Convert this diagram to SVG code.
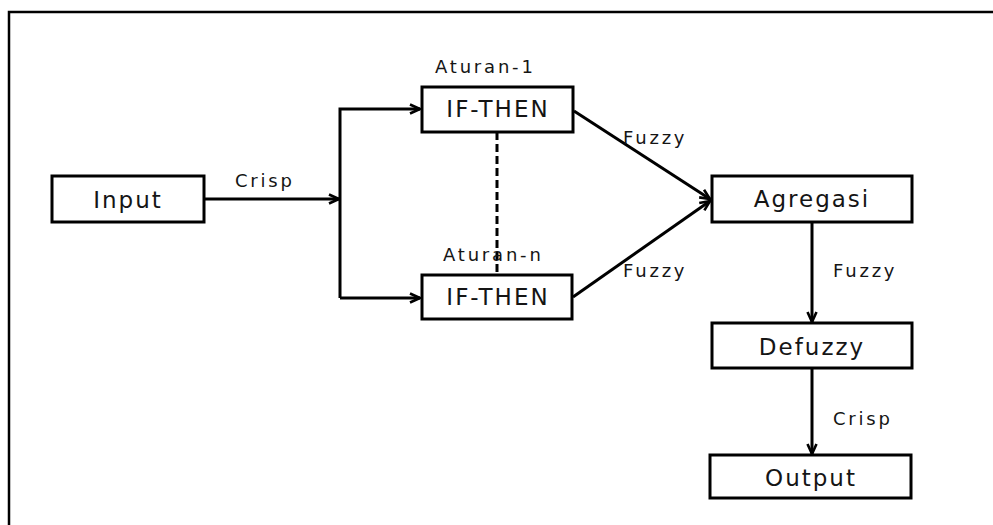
<svg xmlns="http://www.w3.org/2000/svg" width="993" height="525" viewBox="0 0 993 525">
<defs>
<marker id="arr" viewBox="0 0 12 12" refX="11" refY="6" markerWidth="12" markerHeight="12" markerUnits="userSpaceOnUse" orient="auto">
<path d="M1,1.5 L11,6 L1,10.5" fill="none" stroke="#000" stroke-width="2.6"/>
</marker>
<style>
.box{fill:#fff;stroke:#000;stroke-width:3}
.big{font-family:"DejaVu Sans","Liberation Sans",sans-serif;font-size:23px;letter-spacing:2px;fill:#151515;text-anchor:middle}
.lbl{font-family:"DejaVu Sans","Liberation Sans",sans-serif;font-size:18px;letter-spacing:2.8px;fill:#151515}
.ln{fill:none;stroke:#000;stroke-width:3}
</style>
</defs>
<rect width="993" height="525" fill="#fff"/>
<path d="M9,525 L9,12 L993,12" fill="none" stroke="#000" stroke-width="2.5"/>

<g id="connectors">
<path class="ln" d="M204,199 L339,199" marker-end="url(#arr)"/>
<path class="ln" d="M340,298 L340,109 L420,109" marker-end="url(#arr)"/>
<path class="ln" d="M340,298 L420,298" marker-end="url(#arr)"/>
<path d="M497,132 L497,275" fill="none" stroke="#000" stroke-width="3" stroke-dasharray="8,4"/>
<path class="ln" d="M574,111 L710,199" marker-end="url(#arr)"/>
<path class="ln" d="M573,297 L710,201" marker-end="url(#arr)"/>
<path class="ln" d="M812,222 L812,322" marker-end="url(#arr)"/>
<path class="ln" d="M812,368 L812,454" marker-end="url(#arr)"/>
<text class="lbl" x="235" y="187">Crisp</text>
<text class="lbl" x="623" y="144">Fuzzy</text>
<text class="lbl" x="623" y="277">Fuzzy</text>
<text class="lbl" x="833" y="277">Fuzzy</text>
<text class="lbl" x="833" y="425">Crisp</text>
</g>

<g id="input">
<rect class="box" x="52" y="176" width="152" height="46"/>
<text class="big" x="128" y="208">Input</text>
</g>

<g id="rule1">
<text class="lbl" x="435" y="73">Aturan-1</text>
<rect class="box" x="422" y="87" width="151" height="45"/>
<text class="big" x="498" y="117">IF-THEN</text>
</g>

<g id="rulen">
<text class="lbl" x="443" y="261">Aturan-n</text>
<rect class="box" x="422" y="275" width="150" height="44"/>
<text class="big" x="498" y="305">IF-THEN</text>
</g>

<g id="agregasi">
<rect class="box" x="712" y="176" width="200" height="46"/>
<text class="big" x="812" y="207">Agregasi</text>
</g>

<g id="defuzzy">
<rect class="box" x="712" y="323" width="200" height="45"/>
<text class="big" x="812" y="355">Defuzzy</text>
</g>

<g id="output">
<rect class="box" x="710" y="455" width="201" height="43"/>
<text class="big" x="811" y="486">Output</text>
</g>
</svg>
